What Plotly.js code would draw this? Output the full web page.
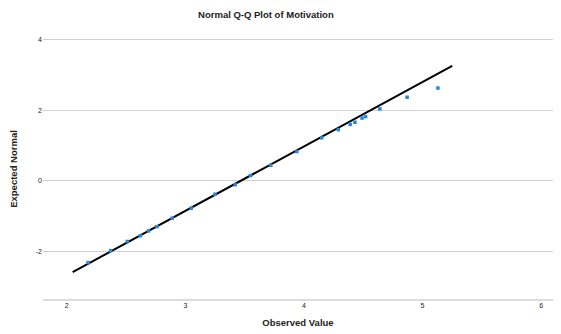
<!DOCTYPE html>
<html>
<head>
<meta charset="utf-8">
<script src="https://cdn.plot.ly/plotly-3.0.1.min.js"></script>
<style>html,body{margin:0;padding:0;background:#fff;}#chart{width:561px;height:334px;}</style>
</head>
<body>
<div id="chart"></div>
<script>
var observedValues = [2.18, 2.37, 2.51, 2.62, 2.69, 2.76, 2.89, 3.05, 3.25, 3.42, 3.55, 3.72, 3.94, 4.15, 4.29, 4.39, 4.43, 4.49, 4.52, 4.64, 4.87, 5.13];
var expectedNormal = [-2.32, -1.98, -1.72, -1.56, -1.42, -1.30, -1.06, -0.78, -0.38, -0.11, 0.15, 0.44, 0.83, 1.22, 1.45, 1.60, 1.66, 1.78, 1.82, 2.04, 2.37, 2.63];
// Reference line end points
var refLineX = [2.05, 5.25];
var refLineY = [-2.59, 3.26];
var xTicks = [2, 3, 4, 5, 6];
var yTicks = [-2, 0, 2, 4];

var traces = [
  {
    x: refLineX, y: refLineY, type: 'scatter', mode: 'lines',
    line: {color: '#000000', width: 2}, hoverinfo: 'skip', showlegend: false
  },
  {
    x: observedValues, y: expectedNormal, type: 'scatter', mode: 'markers',
    marker: {color: '#2a84d8', size: 3.5, symbol: 'square'}, showlegend: false
  }
];

var layout = {
  width: 561, height: 334,
  margin: {l: 43, r: 8, t: 38, b: 34},
  paper_bgcolor: '#ffffff', plot_bgcolor: '#ffffff',
  font: {family: 'Liberation Sans, Arial, sans-serif', color: '#222'},
  title: {text: '<b>Normal Q-Q Plot of Motivation</b>', x: 0.474, xanchor: 'center', y: 0.955, yanchor: 'middle', font: {size: 9.5, color: '#222'}},
  xaxis: {
    range: [1.8, 6.1], tickvals: xTicks, ticktext: xTicks.map(String),
    showgrid: false, zeroline: false, showline: false, ticks: '',
    tickfont: {size: 7, color: '#222'},
    title: {text: '<b>Observed Value</b>', font: {size: 9.5, color: '#222'}, standoff: 11}
  },
  yaxis: {
    range: [-3.38, 4.05], tickvals: yTicks, ticktext: yTicks.map(String),
    showgrid: true, gridcolor: '#d0d0d0', gridwidth: 1, zeroline: false,
    showline: false, ticks: '', tickfont: {size: 7, color: '#222'},
    title: {text: '<b>Expected Normal</b>', font: {size: 9.5, color: '#222'}, standoff: 16}
  },
  shapes: [
    {type: 'line', xref: 'paper', yref: 'paper', x0: 0, x1: 1, y0: 0, y1: 0, line: {color: '#d0d0d0', width: 1.5}}
  ]
};

Plotly.newPlot('chart', traces, layout, {displayModeBar: false, staticPlot: true});
</script>
</body>
</html>
